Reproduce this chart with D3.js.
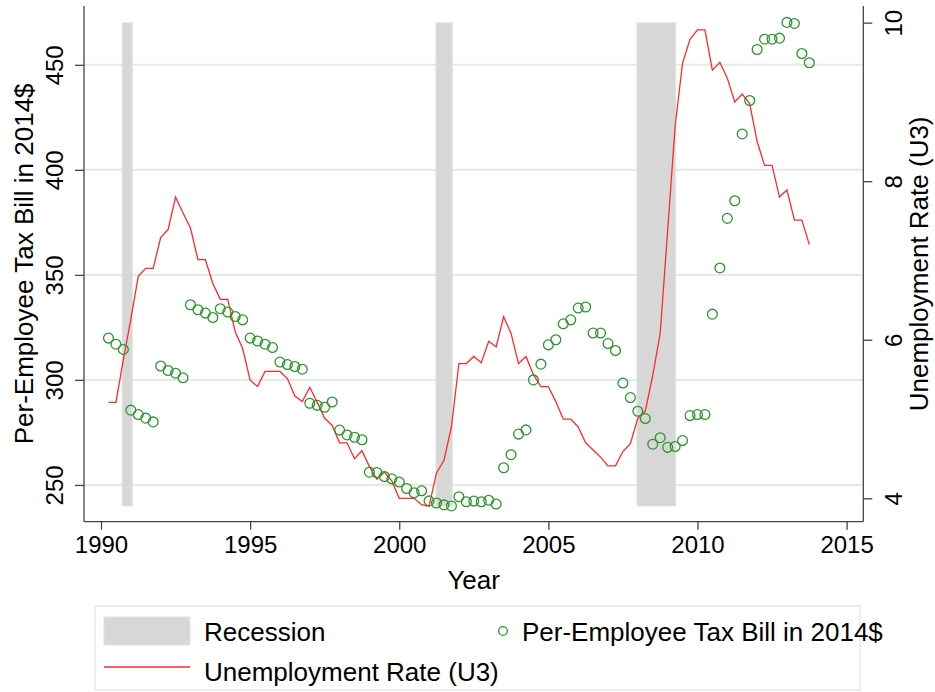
<!DOCTYPE html>
<html>
<head>
<meta charset="utf-8">
<script src="https://cdn.jsdelivr.net/npm/d3@7"></script>
<style>
  body { margin:0; background:#fff; }
  text { font-family:"Liberation Sans", Arial, sans-serif; fill:#000; }
</style>
</head>
<body>
<div id="chart"></div>
<script>
// quarterly series, first quarter is 1990 Q2
const startYear = 1990.25

const taxBill = [
  319.9, 317.0, 314.5,
  285.6, 283.5, 281.8, 280.0,
  306.6, 304.5, 303.2, 301.0,
  335.8, 333.4, 331.8, 329.7,
  333.9, 332.3, 330.2, 328.6,
  319.9, 318.5, 317.0, 315.4,
  308.5, 307.3, 306.4, 305.1,
  288.9, 287.9, 287.0, 289.5,
  276.1, 273.8, 272.7, 271.5,
  256.1, 255.9, 254.0, 252.9,
  251.4, 248.3, 246.3, 247.2,
  242.4, 241.4, 240.5, 240.0,
  244.4, 242.0, 242.3, 242.0,
  242.7, 240.9, 258.2, 264.4,
  274.2, 276.2, 300.0, 307.5,
  316.7, 319.1, 326.7, 328.6,
  334.2, 334.7, 322.3, 322.3,
  317.3, 314.0, 298.5, 291.6,
  285.1, 281.6, 269.4, 272.5,
  267.9, 268.3, 271.1, 283.0,
  283.5, 283.5, 331.3, 353.3,
  376.9, 385.3, 417.1, 433.0,
  457.3, 462.2, 462.2, 462.7,
  470.2, 469.7, 455.4, 451.0
]

const unemployment = [
  5.21, 5.21, 5.75,
  6.26, 6.80, 6.90, 6.90,
  7.29, 7.39, 7.80, 7.60,
  7.41, 7.01, 7.01, 6.71,
  6.51, 6.51, 6.10, 5.89,
  5.49, 5.41, 5.60, 5.60,
  5.60, 5.51, 5.29, 5.22,
  5.40, 5.21, 5.01, 4.92,
  4.70, 4.70, 4.50, 4.60,
  4.40, 4.24, 4.33, 4.22,
  4.00, 4.00, 4.00, 3.92,
  3.90, 4.32, 4.48, 4.90,
  5.70, 5.70, 5.79, 5.71,
  5.98, 5.91, 6.29, 6.08,
  5.70, 5.79, 5.56, 5.41,
  5.41, 5.22, 5.00, 5.00,
  4.90, 4.70, 4.61, 4.52,
  4.41, 4.41, 4.59, 4.69,
  5.01, 5.10, 5.55, 6.08,
  7.38, 8.69, 9.49, 9.79,
  9.91, 9.91, 9.40, 9.50,
  9.30, 9.00, 9.10, 8.98,
  8.50, 8.20, 8.20, 7.80,
  7.89, 7.51, 7.51, 7.20
]

const recessionStart = [1990.71, 2001.23, 2007.97]
const recessionEnd   = [1991.05, 2001.78, 2009.27]
const recessionBand  = [240, 470]   // in tax-bill units (left axis)

const xTicks = [1990, 1995, 2000, 2005, 2010, 2015]
const leftTicks = [250, 300, 350, 400, 450]
const rightTicks = [4, 6, 8, 10]

function render(){
  let width = 935, height = 692,
      plot = { left:84, right:863.3, top:6, bottom:521.7 }

  const quarters = taxBill.map((d, i) => startYear + i * 0.25)

  let xScale = d3.scaleLinear().domain([1989.43, 2015.56]).range([plot.left, plot.right])
  let yLeft  = d3.scaleLinear().domain([232.5, 478]).range([plot.bottom, plot.top])
  let yRight = d3.scaleLinear().domain([3.705, 10.21]).range([plot.bottom, plot.top])

  let svg = d3.select("#chart").append("svg")
    .attr("width", width).attr("height", height)
    .style("background-color", "#fff")

  // gridlines
  svg.append("g").selectAll("line")
    .data(leftTicks).enter().append("line")
    .attr("x1", plot.left).attr("x2", plot.right)
    .attr("y1", d => yLeft(d)).attr("y2", d => yLeft(d))
    .attr("stroke", "#e8e8e8").attr("stroke-width", 2)

  // recession bars
  svg.append("g").selectAll("rect")
    .data(recessionStart).enter().append("rect")
    .attr("x", d => xScale(d))
    .attr("width", (d, i) => xScale(recessionEnd[i]) - xScale(d))
    .attr("y", yLeft(recessionBand[1]))
    .attr("height", yLeft(recessionBand[0]) - yLeft(recessionBand[1]))
    .attr("fill", "#d7d7d7").attr("stroke", "#e2e2e2").attr("stroke-width", 1)

  // unemployment line
  let line = d3.line().x((d, i) => xScale(quarters[i])).y(d => yRight(d))
  svg.append("path").datum(unemployment)
    .attr("d", line)
    .attr("fill", "none").attr("stroke", "#ff2a2a").attr("stroke-width", 1.3)

  // tax bill points
  svg.append("g").selectAll("circle")
    .data(taxBill).enter().append("circle")
    .attr("cx", (d, i) => xScale(quarters[i]))
    .attr("cy", d => yLeft(d))
    .attr("r", 4.9)
    .attr("fill", "none").attr("stroke", "#2a962a").attr("stroke-width", 1.3)

  // axes
  let xAxis = d3.axisBottom(xScale).tickValues(xTicks).tickFormat(d3.format("d")).tickSize(8).tickPadding(6)
  let yAxisL = d3.axisLeft(yLeft).tickValues(leftTicks).tickFormat(d3.format("d")).tickSize(9).tickPadding(4)
  let yAxisR = d3.axisRight(yRight).tickValues(rightTicks).tickFormat(d3.format("d")).tickSize(9).tickPadding(4)

  let gx = svg.append("g").attr("transform", `translate(0,${plot.bottom})`).call(xAxis)
  gx.select(".domain").attr("d", `M${plot.left},0H${plot.right}`)
  let gl = svg.append("g").attr("transform", `translate(${plot.left},0)`).call(yAxisL)
  gl.select(".domain").attr("d", `M0,${plot.top}V${plot.bottom}`)
  let gr = svg.append("g").attr("transform", `translate(${plot.right},0)`).call(yAxisR)
  gr.select(".domain").attr("d", `M0,${plot.top}V${plot.bottom}`)

  svg.selectAll(".domain, .tick line").attr("stroke", "#444").attr("stroke-width", 1.3)
  svg.selectAll(".tick text").attr("font-size", 24).attr("font-family", "Liberation Sans, Arial, sans-serif").attr("fill", "#000")

  // rotate the y tick labels
  gl.selectAll(".tick text")
    .attr("transform", "rotate(-90)").attr("x", 0).attr("y", -21)
    .attr("text-anchor", "middle").attr("dy", 0)
  gr.selectAll(".tick text")
    .attr("transform", "rotate(-90)").attr("x", 0).attr("y", 39)
    .attr("text-anchor", "middle").attr("dy", 0)

  // titles
  svg.append("text").attr("x", (plot.left + plot.right) / 2).attr("y", 589)
    .attr("text-anchor", "middle").attr("font-size", 26).text("Year")
  svg.append("text")
    .attr("transform", `translate(33,${(plot.top + plot.bottom) / 2}) rotate(-90)`)
    .attr("text-anchor", "middle").attr("font-size", 26).text("Per-Employee Tax Bill in 2014$")
  svg.append("text")
    .attr("transform", `translate(928,${(plot.top + plot.bottom) / 2}) rotate(-90)`)
    .attr("text-anchor", "middle").attr("font-size", 26).text("Unemployment Rate (U3)")

  // legend
  let lg = svg.append("g")
  lg.append("rect").attr("x", 95).attr("y", 606).attr("width", 765).attr("height", 84)
    .attr("fill", "#fff").attr("stroke", "#e8e8e8").attr("stroke-width", 1.5)
  lg.append("rect").attr("x", 104).attr("y", 617).attr("width", 86).attr("height", 28)
    .attr("fill", "#d7d7d7").attr("stroke", "#e2e2e2")
  lg.append("text").attr("x", 204).attr("y", 641).attr("font-size", 26).text("Recession")
  lg.append("line").attr("x1", 104).attr("x2", 190).attr("y1", 667).attr("y2", 667)
    .attr("stroke", "#ff2a2a").attr("stroke-width", 1.3)
  lg.append("text").attr("x", 204).attr("y", 681).attr("font-size", 26).text("Unemployment Rate (U3)")
  lg.append("circle").attr("cx", 503).attr("cy", 631).attr("r", 4.3)
    .attr("fill", "none").attr("stroke", "#2a962a").attr("stroke-width", 1.3)
  lg.append("text").attr("x", 522).attr("y", 641).attr("font-size", 26).text("Per-Employee Tax Bill in 2014$")
}

render()
</script>
</body>
</html>
